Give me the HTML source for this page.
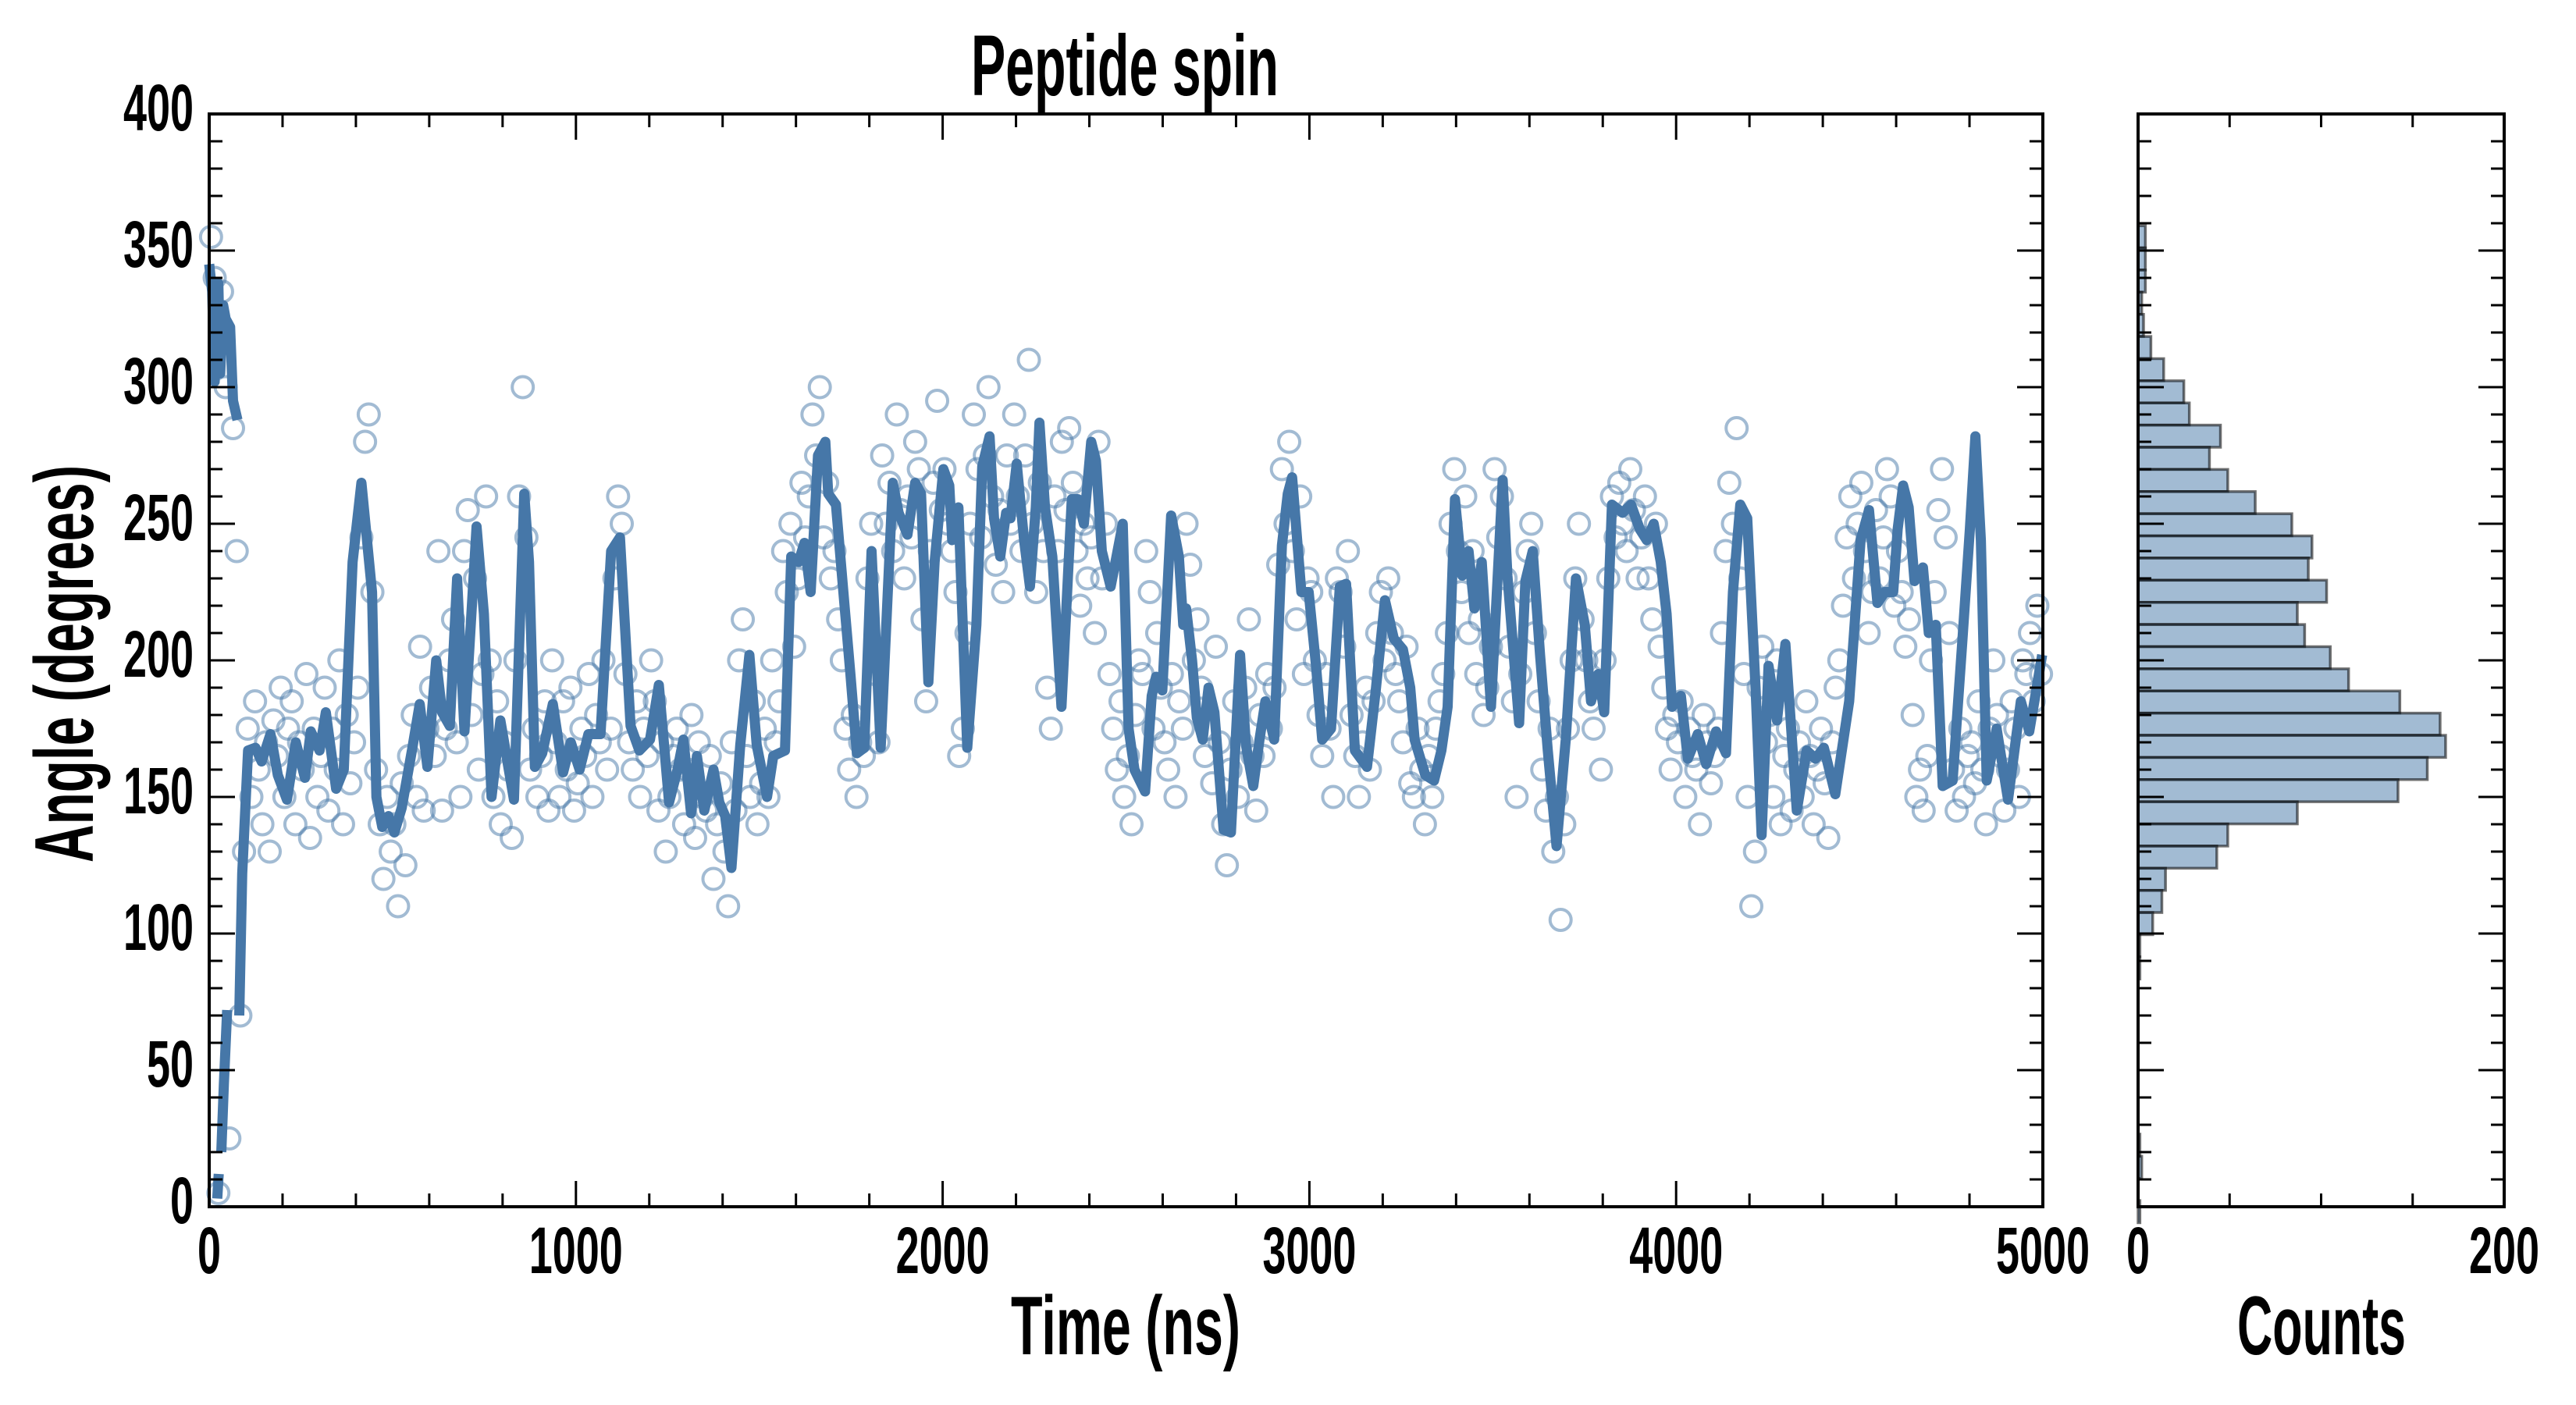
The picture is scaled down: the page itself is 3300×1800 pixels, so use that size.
<!DOCTYPE html>
<html>
<head>
<meta charset="utf-8">
<style>
html,body{margin:0;padding:0;background:#fff;}
svg{display:block;}
text{font-family:"Liberation Sans Narrow","Liberation Sans",sans-serif;font-weight:bold;fill:#000;}
</style>
</head>
<body>
<svg id="chart" xmlns="http://www.w3.org/2000/svg" width="3300" height="1800" viewBox="0 0 3300 1800">
<rect x="0" y="0" width="3300" height="1800" fill="#fff"/>
<text x="1244" y="122" font-size="110" textLength="394" lengthAdjust="spacingAndGlyphs">Peptide spin</text>
<text x="1295" y="1735" font-size="107" textLength="294" lengthAdjust="spacingAndGlyphs">Time (ns)</text>
<text x="2866" y="1735" font-size="107" textLength="216" lengthAdjust="spacingAndGlyphs">Counts</text>
<text transform="translate(119,1105) rotate(-90)" x="0" y="0" font-size="107" textLength="509" lengthAdjust="spacingAndGlyphs">Angle (degrees)</text>
<g id="scatter"></g>
<g id="line"></g>
<g id="hist"></g>
<g id="axes"></g>
</svg>
<script>
const scatterStart = 5;
const scatterStep = 10;
const scatterY = [
355,340,5,335,300,25,285,240,70,130,
175,150,185,160,140,170,130,178,165,190,
150,175,185,140,170,160,195,135,175,150,
165,190,145,175,160,200,140,180,155,170,
190,245,280,290,225,160,140,120,150,130,
140,110,155,125,165,180,150,205,145,175,
190,165,240,145,175,200,215,170,150,240,
255,180,230,160,195,260,200,150,185,140,
170,160,135,200,260,300,245,160,175,150,
165,185,145,200,170,150,185,160,190,145,
155,175,165,195,150,180,170,200,160,175,
230,260,250,195,170,160,185,150,175,165,
200,185,145,170,130,150,165,175,160,140,
160,180,135,170,150,145,165,120,140,155,
130,110,170,145,200,215,165,150,185,140,
155,175,150,200,170,185,240,225,250,205,
230,265,245,260,290,275,300,245,265,230,
240,215,200,175,160,180,150,170,165,230,
250,195,170,275,250,265,240,290,255,230,
260,245,280,270,215,185,240,265,295,255,
270,250,240,225,165,175,210,250,290,270,
245,275,300,260,235,255,225,275,250,290,
260,240,275,310,250,225,265,240,190,175,
260,240,280,255,285,265,240,220,250,230,
245,210,280,230,250,195,175,160,185,150,
165,140,180,200,195,240,225,175,210,190,
170,160,195,150,185,175,250,235,200,215,
190,165,175,155,205,170,140,125,160,185,
150,170,190,215,165,145,180,165,195,175,
190,235,270,250,280,240,215,260,195,230,
225,200,180,165,195,175,150,230,225,205,
240,180,165,150,170,190,160,185,210,225,
200,230,210,195,185,170,205,155,150,175,
160,140,165,150,175,185,195,210,250,270,
240,225,260,210,240,195,215,180,190,205,
270,245,260,230,205,185,150,195,225,240,
250,210,185,160,145,175,130,150,105,140,
175,200,230,250,215,200,185,175,190,160,
200,230,260,245,265,250,240,270,255,230,
245,260,230,215,250,205,190,175,160,180,
170,185,150,175,165,160,140,180,170,155,
165,175,210,240,265,250,285,230,195,150,
110,130,190,205,170,180,150,200,140,165,
175,145,160,170,150,185,165,140,160,175,
155,135,170,190,200,220,245,260,230,250,
265,240,210,225,255,230,245,270,260,220,
240,225,205,215,180,150,160,145,165,200,
225,255,270,245,210,160,145,175,150,165,
170,155,185,160,140,175,200,180,165,145,
160,185,175,150,200,195,210,185,220,195
];
const lineT = [0,8,15,20,25,30,38,45,57,65,77,null,22,26,null,33,40,49,null,82,90,106,126,143,167,187,212,236,261,277,301,318,346,367,391,415,444,456,472,489,505,525,554,574,595,619,635,656,676,696,729,749,770,794,831,859,872,888,908,937,965,986,1010,1034,1067,1096,1120,1149,1173,1202,1226,1254,1277,1293,1314,1330,1350,1375,1391,1407,1424,1448,1473,1493,1521,1538,1570,1587,1607,1623,1640,1660,1680,1688,1709,1733,1749,1766,1786,1806,1831,1864,1880,1904,1925,1941,1961,1978,2002,2018,2026,2043,2067,2092,2108,2128,2140,2157,2173,2185,2202,2222,2238,2254,2264,2279,2299,2324,2352,2369,2385,2405,2418,2434,2458,2474,2491,2507,2523,2552,2570,2582,2599,2623,2644,2656,2664,2680,2693,2709,2725,2741,2766,2786,2811,2827,2847,2864,2880,2904,2925,2941,2953,2978,2998,3018,3035,3059,3083,3100,3124,3157,3181,3206,3230,3255,3275,3287,3316,3340,3360,3377,3397,3417,3434,3450,3470,3495,3527,3540,3572,3589,3609,3629,3650,3674,3699,3727,3751,3768,3788,3804,3825,3854,3877,3901,3920,3939,3958,3974,3989,4013,4032,4059,4082,4109,4136,4155,4175,4194,4217,4233,4252,4275,4298,4329,4356,4380,4403,4434,4472,4503,4526,4549,4569,4592,4604,4619,4634,4650,4673,4689,4708,4727,4754,4781,4801,4816,4831,4847,4874,4905,4940,4963,4982,4998];
const lineY = [345,335,302,325,338,305,330,325,322,295,288,null,3,12,null,20,45,72,null,70,122,167,168,163,173,158,149,170,157,174,167,181,153,160,236,265,225,150,139,143,137,146,168,184,161,200,181,176,230,174,249,217,150,178,149,261,236,161,166,184,159,170,160,173,173,240,245,176,167,171,191,148,160,171,144,165,145,160,148,143,124,169,202,169,150,165,167,238,236,243,225,275,280,261,257,219,194,166,168,240,168,265,254,246,265,261,192,236,270,264,244,256,168,213,271,282,252,238,254,252,272,244,227,256,287,256,238,183,259,259,250,280,273,240,227,238,250,175,160,152,187,194,189,253,238,213,219,200,179,171,190,181,138,137,202,169,154,171,185,171,242,261,267,225,225,198,171,175,227,228,167,161,189,222,208,204,190,171,158,156,167,183,259,231,240,219,236,183,266,231,177,229,240,202,167,132,171,230,213,185,195,181,257,254,257,248,244,250,236,217,183,187,164,173,162,174,166,225,257,252,189,136,198,178,206,145,167,164,168,151,185,244,255,221,225,225,248,264,256,229,234,210,213,154,156,208,248,282,244,156,175,149,185,174,189,202];
const histCounts = [4,4,4,2,3,7,14,25,28,45,39,49,64,84,95,93,103,87,91,105,115,143,165,168,158,142,87,49,43,15,13,8,1,1,0,0,0,0,0,0,0,1,2,0,1];
const histTop = 359.1;
const histBinWidth = 8.11;
const yTicks = ["0","50","100","150","200","250","300","350","400"];
const xTicks = ["0","1000","2000","3000","4000","5000"];
const histXTicks = ["0","200"];

const NS = "http://www.w3.org/2000/svg";
const PX0 = 268, PX1 = 2617, PY0 = 1546, PY1 = 146;
const HX0 = 2739, HX1 = 3208;
const xScale = t => PX0 + (t / 5000) * (PX1 - PX0);
const yScale = d => PY0 - (d / 400) * (PY0 - PY1);
const hScale = c => HX0 + (c / 200) * (HX1 - HX0);
function mk(tag, attrs, parent) {
  const e = document.createElementNS(NS, tag);
  for (const k in attrs) e.setAttribute(k, attrs[k]);
  parent.appendChild(e);
  return e;
}
const gS = document.getElementById("scatter");
scatterY.forEach((v, i) => {
  const c = mk("circle", {cx: xScale(scatterStart + i * scatterStep), cy: yScale(v), r: 13.5, fill: "none", stroke: "rgba(70,119,168,0.5)", "stroke-width": 4}, gS);
  
  
});
const gL = document.getElementById("line");
let seg = [];
function flush() {
  if (seg.length > 1) {
    const p = mk("polyline", {points: seg.join(" "), fill: "none", stroke: "#4677a8", "stroke-width": 13, "stroke-linejoin": "round", "stroke-linecap": "butt"}, gL);
    
    
  }
  seg = [];
}
lineT.forEach((t, i) => {
  if (t === null || lineY[i] === null) { flush(); return; }
  seg.push(xScale(t).toFixed(1) + "," + yScale(lineY[i]).toFixed(1));
});
flush();
const gH = document.getElementById("hist");
histCounts.forEach((c, i) => {
  if (c <= 0) return;
  const hi = histTop - i * histBinWidth, lo = hi - histBinWidth;
  const r = mk("rect", {x: HX0, y: yScale(hi), width: hScale(c) - HX0, height: yScale(lo) - yScale(hi), fill: "rgba(70,119,168,0.5)", stroke: "rgba(0,0,0,0.55)", "stroke-width": 3.5}, gH);
  
  
});
const gA = document.getElementById("axes");
function line(x1, y1, x2, y2, w, name) {
  const l = mk("line", {x1, y1, x2, y2, stroke: "#000", "stroke-width": w}, gA);
  
  
}
function frame(x0, x1, name) {
  const r = mk("rect", {x: x0, y: PY1, width: x1 - x0, height: PY0 - PY1, fill: "none", stroke: "#000", "stroke-width": 4}, gA);
  
  
}
frame(PX0, PX1, "main-plot-frame");
frame(HX0, HX1, "hist-plot-frame");
for (let d = 0; d <= 400; d += 10) {
  const y = yScale(d), L = d % 50 === 0 ? 33 : 17;
  line(PX0, y, PX0 + L, y, 3, "y-tick");
  line(PX1, y, PX1 - L, y, 3, "y-tick");
  line(HX0, y, HX0 + L, y, 3, "hist-y-tick");
  line(HX1, y, HX1 - L, y, 3, "hist-y-tick");
}
for (let t = 0; t <= 5000; t += 200) {
  const x = xScale(t), L = t % 1000 === 0 ? 33 : 17;
  line(x, PY0, x, PY0 - L, 3, "x-tick");
  line(x, PY1, x, PY1 + L, 3, "x-tick");
}
for (let c = 0; c <= 200; c += 50) {
  const x = hScale(c), L = (c === 0 || c === 200) ? 33 : 17;
  line(x, PY0, x, PY0 - L, 3, "hist-x-tick");
  line(x, PY1, x, PY1 + L, 3, "hist-x-tick");
}
yTicks.forEach(s => {
  const t = mk("text", {x: 248, y: yScale(parseFloat(s)) + 21, "font-size": 84, "text-anchor": "end", textLength: s.length * 30, lengthAdjust: "spacingAndGlyphs"}, gA);
  t.textContent = s;
  
  
});
xTicks.forEach(s => {
  const t = mk("text", {x: xScale(parseFloat(s)), y: 1631, "font-size": 84, "text-anchor": "middle", textLength: s.length * 30, lengthAdjust: "spacingAndGlyphs"}, gA);
  t.textContent = s;
  
  
});
histXTicks.forEach(s => {
  const t = mk("text", {x: hScale(parseFloat(s)), y: 1631, "font-size": 84, "text-anchor": "middle", textLength: s.length * 30, lengthAdjust: "spacingAndGlyphs"}, gA);
  t.textContent = s;
  
  
});
</script>
</body>
</html>
